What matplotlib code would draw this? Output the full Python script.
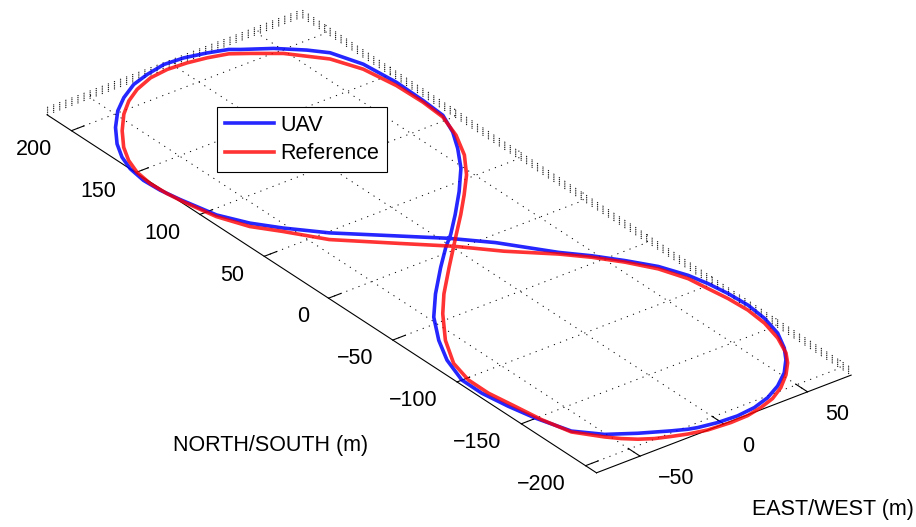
import matplotlib
matplotlib.use('Agg')
import matplotlib.pyplot as plt

plt.rcParams['font.family'] = ['Liberation Sans', 'DejaVu Sans']

# reference figure-eight (metres)
ref_ew = [-1.2, 14.7, 33.6, 44.2, 53.9, 62.5, 68.1, 69.8, 71.6, 72.4, 71.1, 67.5, 62.0, 56.9,
          49.4, 40.0, 30.6, 21.0, 11.5, 1.2, -11.9, -21.7, -29.4, -36.8, -43.4, -49.3, -54.6,
          -64.2, -68.3, -70.6, -73.0, -72.9, -68.9, -58.7, -44.4, -32.5, -15.3, 6.5, 19.6,
          32.3, 44.7, 55.3, 63.6, 69.1, 70.2, 69.8, 66.8, 60.2, 45.9, 33.4, 25.1, 14.7, 4.3,
          -7.0, -18.1, -29.8, -39.6, -49.1, -59.3, -68.3, -74.0, -77.6, -79.2, -78.7, -77.3,
          -73.4, -66.6, -57.0, -44.2, -20.2, -1.2]
ref_ns = [-0.2, -18.3, -36.2, -48.2, -61.5, -76.1, -92.1, -105.3, -118.4, -132.9, -147.6, -162.5,
          -176.1, -184.0, -192.5, -200.7, -206.5, -209.9, -212.1, -212.5, -211.4, -208.7,
          -205.7, -202.5, -198.2, -192.9, -186.9, -173.6, -155.6, -138.0, -120.5, -104.8,
          -88.1, -68.4, -47.7, -33.1, -14.7, 8.1, 21.7, 35.6, 49.9, 65.4, 82.7, 100.2, 117.1,
          137.1, 159.1, 176.3, 193.9, 203.5, 209.4, 212.6, 214.6, 215.4, 213.9, 209.1, 202.8,
          194.3, 182.3, 169.4, 158.1, 147.0, 134.5, 122.3, 111.3, 90.6, 73.6, 60.3, 40.8,
          17.8, -0.2]

# flown UAV track
uav_ew = [1.5, 16.5, 34.6, 45.1, 54.8, 63.9, 70.0, 72.7, 74.5, 75.3, 73.9, 70.3, 64.2, 58.1,
          49.9, 39.8, 29.3, 18.6, 7.5, -3.8, -14.2, -18.9, -26.1, -40.0, -53.1, -63.7, -69.8,
          -73.1, -75.5, -75.4, -69.5, -61.2, -49.7, -35.7, -18.5, -5.1, 4.4, 17.5, 32.3, 46.4,
          56.6, 64.2, 70.1, 71.2, 71.7, 69.7, 63.8, 56.6, 45.1, 32.0, 27.6, 17.5, 5.9, -5.4,
          -17.4, -28.2, -39.6, -49.5, -59.9, -68.8, -74.6, -78.2, -79.9, -79.3, -77.2, -72.4,
          -64.6, -55.0, -40.3, -15.9, 1.5]
uav_ns = [7.2, -9.4, -35.0, -47.1, -60.3, -74.3, -89.6, -101.5, -114.7, -129.2, -143.8, -158.8,
          -171.9, -181.1, -190.5, -198.5, -204.4, -208.0, -209.4, -208.7, -206.7, -205.1,
          -201.5, -193.7, -185.0, -172.9, -152.5, -136.1, -118.6, -102.9, -83.7, -66.5, -47.6,
          -30.7, -12.3, 1.2, 9.7, 23.3, 39.5, 56.5, 72.3, 86.1, 101.4, 118.3, 139.6, 162.8,
          181.0, 189.7, 200.5, 209.3, 212.7, 216.3, 219.3, 220.1, 217.4, 213.8, 206.7, 198.5,
          186.7, 173.9, 162.5, 151.4, 138.9, 126.7, 114.0, 91.8, 76.1, 62.9, 45.8, 23.3, 7.2]
alt = 2.2

ew_lim = (-76, 76)
ns_lim = (-208.5, 219)
z_lim = (0, 4.4)
ew_ticks = [-50, 0, 50]
ns_ticks = [-200, -150, -100, -50, 0, 50, 100, 150, 200]
z_ticks = [0, 1, 2, 3, 4]

W, H = 916, 527
fig = plt.figure(figsize=(W / 100, H / 100), dpi=100)
S = 930
cx, cy = 436.5, 253.5
ax = fig.add_axes([(cx - S / 2) / W, (H - cy - S / 2) / H, S / W, S / H],
                  projection='3d', proj_type='ortho')

ax.plot(uav_ew, uav_ns, zs=alt, color='b', lw=2.6, alpha=0.85, label='UAV')
ax.plot(ref_ew, ref_ns, zs=alt, color='r', lw=2.6, alpha=0.8, label='Reference')

ax.set_xlim(ew_lim)
ax.set_ylim(ns_lim)
ax.set_zlim(z_lim)
ax.set_box_aspect((ew_lim[1] - ew_lim[0], ns_lim[1] - ns_lim[0], z_lim[1] - z_lim[0]))
ax.view_init(elev=30, azim=-127.5)

ax.set_xticks(ew_ticks)
ax.set_yticks(ns_ticks)
ax.set_zticks(z_ticks)
ax.set_zticklabels([])
ax.tick_params(labelsize=15.5)
ax.tick_params(axis='x', pad=3.5)
ax.tick_params(axis='y', pad=19)
for t in ax.xaxis.get_major_ticks():
    t.label1.set_horizontalalignment('left')
    t.label1.set_verticalalignment('top')
for t in ax.yaxis.get_major_ticks():
    t.label1.set_horizontalalignment('right')
    t.label1.set_verticalalignment('top')

for axis in (ax.xaxis, ax.yaxis, ax.zaxis):
    axis.set_pane_color((1, 1, 1, 0))
    axis._axinfo['grid'].update(color='k', linewidth=0.7, linestyle=(0, (1.2, 5.5)))
    axis._axinfo['tick']['inward_factor'] = 0.0
    axis.line.set_linewidth(0.8)
ax.xaxis._axinfo['tick']['outward_factor'] = 0.27
ax.yaxis._axinfo['tick']['outward_factor'] = 0.62
ax.zaxis._axinfo['tick']['outward_factor'] = 0.0
ax.zaxis.line.set_color((0, 0, 0, 0))

fig.text(271 / W, 1 - 445 / H, 'NORTH/SOUTH (m)', ha='center', va='center', fontsize=15.5)
fig.text(833 / W, 1 - 510 / H, 'EAST/WEST (m)', ha='center', va='center', fontsize=15.5)

leg = fig.legend(loc='upper left', bbox_to_anchor=(217 / W, 1 - 107 / H), borderaxespad=0,
                 fontsize=15.5, fancybox=False, edgecolor='k', framealpha=1,
                 handlelength=2.3, handletextpad=0.3, labelspacing=0.35, borderpad=0.35)
leg.get_frame().set_linewidth(0.8)

fig.savefig('out.png', dpi=100)
